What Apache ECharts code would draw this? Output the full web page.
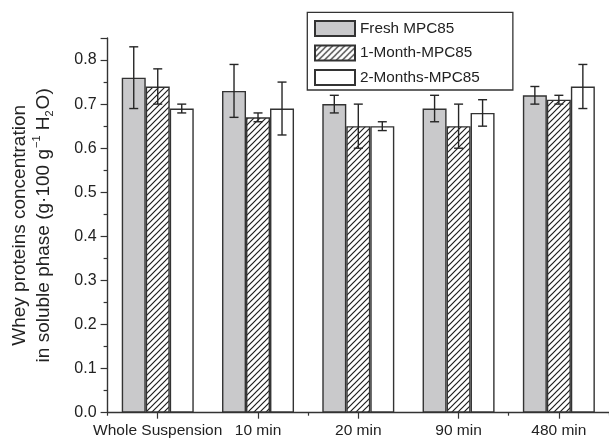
<!DOCTYPE html>
<html>
<head>
<meta charset="utf-8">
<script src="https://cdn.jsdelivr.net/npm/echarts@6/dist/echarts.min.js"></script>
<style>
html,body{margin:0;padding:0;background:#fff;}
#chart{width:609px;height:441px;}
</style>
</head>
<body>
<div id="chart"></div>
<script>
const categories = ['Whole Suspension', '10 min', '20 min', '90 min', '480 min'];
const seriesNames = ['Fresh MPC85', '1-Month-MPC85', '2-Months-MPC85'];
const freshValues = [0.76, 0.73, 0.70, 0.69, 0.72];
const freshErrors = [0.07, 0.06, 0.02, 0.03, 0.02];
const oneMonthValues = [0.74, 0.67, 0.65, 0.65, 0.71];
const oneMonthErrors = [0.04, 0.01, 0.05, 0.05, 0.01];
const twoMonthsValues = [0.69, 0.69, 0.65, 0.68, 0.74];
const twoMonthsErrors = [0.01, 0.06, 0.01, 0.03, 0.05];
const yTicks = [0, 0.1, 0.2, 0.3, 0.4, 0.5, 0.6, 0.7, 0.8];

const FONT = '"Liberation Sans", Arial, Helvetica, sans-serif';
const INK = '#262626';
const BAR_W = 24;

// hatch pattern
const hatch = document.createElement('canvas');
hatch.width = 6; hatch.height = 6;
(function () {
  const c = hatch.getContext('2d');
  c.fillStyle = '#fff';
  c.fillRect(0, 0, 6, 6);
  c.strokeStyle = '#1e1e1e';
  c.lineWidth = 1.2;
  c.beginPath();
  c.moveTo(-1, 7); c.lineTo(7, -1);
  c.moveTo(-4, 4); c.lineTo(4, -4);
  c.moveTo(2, 10); c.lineTo(10, 2);
  c.stroke();
})();

const barBorder = { borderColor: '#333', borderWidth: 1.4 };
const values = [freshValues, oneMonthValues, twoMonthsValues];
const errors = [freshErrors, oneMonthErrors, twoMonthsErrors];
const fills = ['#c9c9cb', { image: hatch, repeat: 'repeat' }, '#ffffff'];

const series = [];
values.forEach((vals, s) => {
  series.push({
    name: seriesNames[s],
    type: 'bar',
    barWidth: BAR_W,
    barGap: '0%',
    data: vals,
    itemStyle: Object.assign({ color: fills[s] }, barBorder),
    emphasis: { disabled: true },
    z: 2
  });
});
values.forEach((vals, s) => {
  series.push({
    type: 'custom',
    z: 5,
    silent: true,
    data: vals.map((v, i) => [i, +(v - errors[s][i]).toFixed(3), +(v + errors[s][i]).toFixed(3)]),
    renderItem: function (params, api) {
      const off = (s - 1) * BAR_W;
      const lo = api.coord([api.value(0), api.value(1)]);
      const hi = api.coord([api.value(0), api.value(2)]);
      const x = lo[0] + off;
      const cap = 4.5;
      const st = { stroke: INK, lineWidth: 1.4, fill: null };
      return {
        type: 'group',
        children: [
          { type: 'line', shape: { x1: x, y1: lo[1], x2: x, y2: hi[1] }, style: st },
          { type: 'line', shape: { x1: x - cap, y1: lo[1], x2: x + cap, y2: lo[1] }, style: st },
          { type: 'line', shape: { x1: x - cap, y1: hi[1], x2: x + cap, y2: hi[1] }, style: st }
        ]
      };
    }
  });
});

const chart = echarts.init(document.getElementById('chart'), null, { renderer: 'canvas' });
chart.setOption({
  animation: false,
  backgroundColor: '#fff',
  textStyle: { fontFamily: FONT },
  grid: { left: 107.6, right: -6, top: 38, bottom: 28.3, containLabel: false },
  legend: {
    data: seriesNames,
    orient: 'vertical',
    left: 307.3,
    top: 12.3,
    itemWidth: 40,
    itemHeight: 15,
    itemGap: 7.5,
    icon: 'rect',
    borderColor: '#333',
    borderWidth: 1.3,
    padding: [7.7, 33, 4, 6.7],
    textStyle: { fontFamily: FONT, fontSize: 15.3, lineHeight: 15, color: '#222' },
    selectedMode: false
  },
  xAxis: [
    {
      type: 'category',
      data: categories,
      position: 'bottom',
      axisLine: { lineStyle: { color: '#333', width: 1.4 } },
      axisTick: { show: true, alignWithLabel: true, length: 6, lineStyle: { color: '#333', width: 1.2 } },
      axisLabel: { fontFamily: FONT, fontSize: 15.5, color: '#222', margin: 10, interval: 0 },
      splitLine: { show: false }
    },
    {
      type: 'category',
      data: categories,
      position: 'bottom',
      axisLine: { show: false },
      axisTick: { show: true, length: 3, lineStyle: { color: '#333', width: 1.2 } },
      axisLabel: { show: false },
      splitLine: { show: false }
    }
  ],
  yAxis: {
    type: 'value',
    min: 0,
    max: 0.85,
    interval: 0.1,
    name: '{t|Whey proteins concentration}\n{t|in soluble phase (g·100 g}{sup|−1}{t| H}{sub|2}{t|O)}',
    nameLocation: 'middle',
    nameRotate: 90,
    nameGap: 52,
    nameTextStyle: {
      fontFamily: FONT,
      color: '#222',
      rich: {
        t: { fontFamily: FONT, fontSize: 19, color: '#222', lineHeight: 24 },
        sup: { fontFamily: FONT, fontSize: 11, color: '#222', lineHeight: 24, verticalAlign: 'top', padding: [0, 0, 0, 1] },
        sub: { fontFamily: FONT, fontSize: 11, color: '#222', lineHeight: 24, verticalAlign: 'bottom', padding: [0, 1, 0, 0] }
      }
    },
    axisLine: { show: true, lineStyle: { color: '#333', width: 1.4 } },
    axisTick: { show: true, length: 7, lineStyle: { color: '#333', width: 1.2 } },
    minorTick: { show: true, splitNumber: 2, length: 4, lineStyle: { color: '#333', width: 1.2 } },
    axisLabel: {
      fontFamily: FONT, fontSize: 16, color: '#222', margin: 11,
      showMaxLabel: false,
      formatter: function (v) {
        const hit = yTicks.find(t => Math.abs(t - v) < 1e-6);
        return hit === undefined ? '' : hit.toFixed(1);
      }
    },
    splitLine: { show: false }
  },
  series: series
});
</script>
</body>
</html>
